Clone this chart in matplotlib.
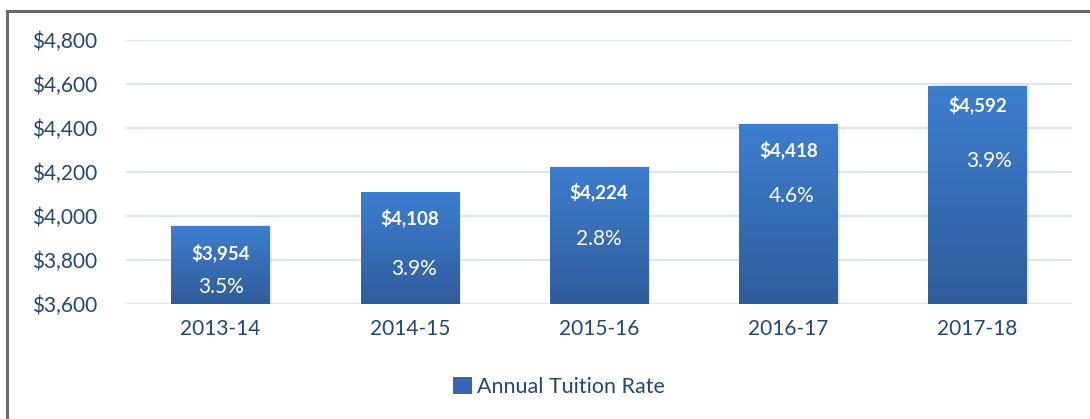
import matplotlib
matplotlib.use('Agg')
import matplotlib.pyplot as plt
import numpy as np
from matplotlib.colors import LinearSegmentedColormap
from matplotlib.patches import Rectangle

plt.rcParams['font.family'] = ['Lato', 'DejaVu Sans']

years = ['2013-14', '2014-15', '2015-16', '2016-17', '2017-18']
tuition = [3954, 4108, 4224, 4418, 4592]
pct_change = ['3.5%', '3.9%', '2.8%', '4.6%', '3.9%']

# where Excel put the labels (data units)
dollar_y = [3832, 3991, 4109, 4300, 4505]
pct_y = [3677, 3759, 3895, 4091, 4250]
pct_dx = [0.0, 0.02, 0.0, 0.02, 0.06]

text_col = '#1F497D'
grad = LinearSegmentedColormap.from_list('bar', ['#2F5D9B', '#3D7ECF'])

fig = plt.figure(figsize=(10.9, 4.19), dpi=100)
ax = fig.add_axes([126 / 1090, 1 - 304 / 419, (1072 - 126) / 1090, (304 - 40) / 419])

# outer chart border
fig.patches.append(Rectangle((7 / 1090, -0.05), 1.2, 1 - 11 / 419 + 0.05,
                             transform=fig.transFigure, fill=False,
                             edgecolor='#6b6b6b', linewidth=2.2))

x = np.arange(len(years))
bars = ax.bar(x, tuition, width=0.52, color='none', zorder=3)
g = np.linspace(0, 1, 256).reshape(-1, 1)
for b in bars:
    x0, w, h = b.get_x(), b.get_width(), b.get_height()
    # soft shadow
    ax.add_patch(Rectangle((x0 + 0.012, 3600), w, h - 3600 + 3, facecolor='#000000',
                           alpha=0.08, zorder=2, linewidth=0))
    im = ax.imshow(g, cmap=grad, aspect='auto', origin='lower',
                   extent=(x0, x0 + w, 3600, h), zorder=3)
    im.set_clip_path(b)

for i in range(len(years)):
    ax.text(x[i], dollar_y[i], '${:,}'.format(tuition[i]), ha='center', va='center',
            color='white', fontsize=13.5, fontweight='bold', zorder=5)
    ax.text(x[i] + pct_dx[i], pct_y[i], pct_change[i], ha='center', va='center',
            color='white', fontsize=15, zorder=5)

ax.set_xlim(-0.5, len(years) - 0.5)
ax.set_ylim(3600, 4800)
ax.set_yticks(np.arange(3600, 4801, 200))
ax.set_yticklabels(['${:,}'.format(v) for v in range(3600, 4801, 200)])
ax.set_xticks(x)
ax.set_xticklabels(years)
ax.tick_params(axis='both', length=0, labelsize=15, colors=text_col)
ax.tick_params(axis='y', pad=21)
ax.tick_params(axis='x', pad=11)
ax.grid(axis='y', color='#DCE6F2', linewidth=1.6, zorder=0)
for s in ax.spines.values():
    s.set_visible(False)

fig.legend([Rectangle((0, 0), 1, 1, facecolor='#3567B3')], ['Annual Tuition Rate'],
           loc='center', bbox_to_anchor=(559 / 1090, 1 - 387 / 419), frameon=False,
           fontsize=15.5, labelcolor=text_col, handlelength=0.85, handleheight=0.85,
           handletextpad=0.25)

plt.savefig('out.png', dpi=100)
